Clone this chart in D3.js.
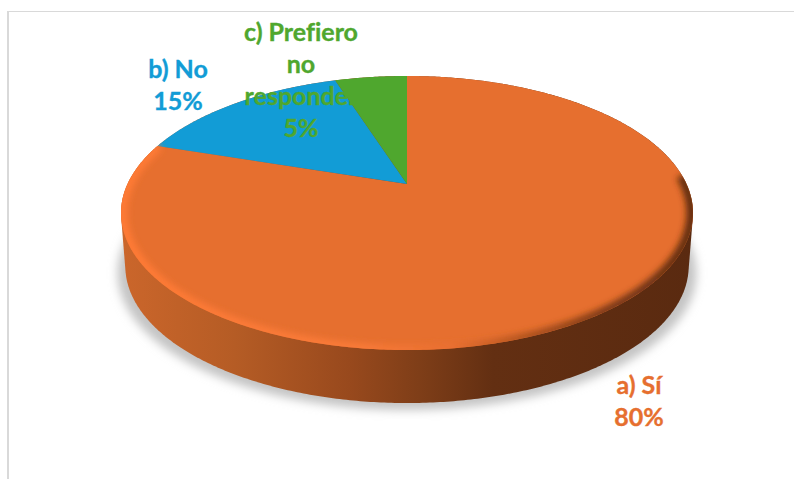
<!DOCTYPE html>
<html>
<head>
<meta charset="utf-8">
<script src="https://cdnjs.cloudflare.com/ajax/libs/d3/7.8.5/d3.min.js"></script>
<style>
	html, body { margin: 0; padding: 0; background: #fff; }
	svg { display: block; }
	text { font-family: Lato, "Open Sans", sans-serif; font-weight: 700; font-size: 25px; text-anchor: middle; font-variant-ligatures: none; stroke-width: 0.35px; }
</style>
</head>
<body>
<script>
var categories = ["a) Sí", "b) No", "c) Prefiero no responder"];
var values = [80, 15, 5];
var labelLines = [["a) Sí", "80%"], ["b) No", "15%"], ["c) Prefiero", "no", "responder", "5%"]];
var colors = ["#e66f2f", "#129cd6", "#4fa72e"];

var width = 794, height = 479;
var cx = 407, cy = 184;			//	where the slices meet
var labelPos = [[639, 394], [178, 78], [301, 41]];	//	first baseline of each label
var lineGap = 32;

var svg = d3.select("body").append("svg").attr("width", width).attr("height", height);
var defs = svg.append("defs");

//	perspective of the tilted disc, unit circle to screen
var persp = 0.2117, scaleX = 279.5, scaleY = 130.9;
function project(angle, drop, shrink) {
	var x = Math.sin(angle), y = Math.cos(angle);
	var w = 1 + persp * y;
	return [cx + shrink * scaleX * x / w, cy - scaleY * y / w + drop];
}

function ring(a0, a1, drop, shrink) {
	var n = Math.max(2, Math.ceil((a1 - a0) / 0.01));
	return d3.range(n + 1).map(function(i) {
		return project(a0 + (a1 - a0) * i / n, drop, shrink);
	});
}

function gradient(id, stops) {
	var g = defs.append("linearGradient").attr("id", id)
		.attr("gradientUnits", "userSpaceOnUse")
		.attr("x1", 121).attr("x2", 693).attr("y1", 0).attr("y2", 0);
	stops.forEach(function(s) {
		g.append("stop").attr("offset", s[0]).attr("stop-color", s[1]);
	});
}

gradient("sideFill", [[0, "#cb662b"], [0.2, "#b55c25"], [0.4, "#98491d"], [0.52, "#7f3e18"], [0.65, "#632f12"], [1, "#5a2a10"]]);
gradient("rimFill", [[0, "#ff7a36"], [0.42, "#f97a38"], [0.58, "#e96f30"], [0.7, "#b3541f"], [0.85, "#7a3814"], [1, "#5f2c10"]]);

defs.append("filter").attr("id", "shadowBlur").attr("x", "-10%").attr("y", "-10%").attr("width", "120%").attr("height", "120%")
	.append("feGaussianBlur").attr("stdDeviation", 5);
defs.append("filter").attr("id", "rimBlur").attr("x", "-10%").attr("y", "-10%").attr("width", "120%").attr("height", "120%")
	.append("feGaussianBlur").attr("stdDeviation", 3.2);

var openLine = d3.line();
var closedLine = d3.line().curve(d3.curveLinearClosed);

//	frame, only the top and left edges show
svg.append("line").attr("x1", 8).attr("x2", 794).attr("y1", 11.5).attr("y2", 11.5).attr("stroke", "#d9d9d9").attr("stroke-width", 1);
svg.append("line").attr("x1", 8).attr("x2", 8).attr("y1", 11).attr("y2", height).attr("stroke", "#d9d9d9").attr("stroke-width", 2);

var whole = ring(0, Math.PI * 2, 0, 1);
var under = ring(0, Math.PI * 2, 53, 0.985);

//	soft shadow under the disc
svg.append("path")
	.attr("d", closedLine(ring(0, Math.PI * 2, 60, 1.012)))
	.attr("fill", "#c4c4c4")
	.attr("filter", "url(#shadowBlur)");

//	side wall
svg.append("path")
	.attr("d", closedLine(d3.polygonHull(whole.concat(under))))
	.attr("fill", "url(#sideFill)");

//	slices from d3.pie, drawn through the perspective
var pie = d3.pie().sort(null).value(function(d) { return d; });
var slices = pie(values);

svg.append("g").selectAll("path").data(slices).enter().append("path")
	.attr("d", function(d) {
		return closedLine([[cx, cy]].concat(ring(d.startAngle, d.endAngle, 0, 1)));
	})
	.attr("fill", function(d, i) { return colors[i]; });

//	bevel along the front edge
defs.append("clipPath").attr("id", "faceClip").append("path").attr("d", closedLine(whole));
svg.append("g").attr("clip-path", "url(#faceClip)").append("path")
	.attr("d", openLine(ring(Math.PI * 0.48, Math.PI * 1.6, 0, 0.995)))
	.attr("fill", "none")
	.attr("stroke", "url(#rimFill)")
	.attr("stroke-width", 10)
	.attr("filter", "url(#rimBlur)");

//	labels sit on top of the pie
var labels = svg.append("g").selectAll("text").data(labelLines).enter().append("text")
	.attr("fill", function(d, i) { return colors[i]; })
	.attr("stroke", function(d, i) { return colors[i]; })
	.attr("x", function(d, i) { return labelPos[i][0]; })
	.attr("y", function(d, i) { return labelPos[i][1]; });

labels.selectAll("tspan").data(function(d) { return d; }).enter().append("tspan")
	.attr("x", function() { return d3.select(this.parentNode).attr("x"); })
	.attr("dy", function(d, i) { return i == 0 ? 0 : lineGap; })
	.text(function(d) { return d; });
</script>
</body>
</html>
